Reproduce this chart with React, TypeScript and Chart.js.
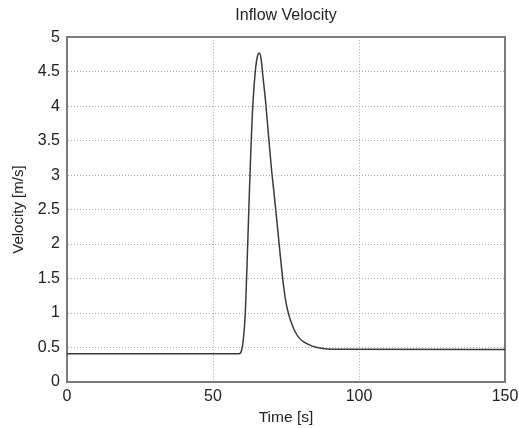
import React, { useEffect, useRef } from "react";
import { Chart, registerables } from "chart.js";

Chart.register(...registerables);

const chartTitle = "Inflow Velocity";
const xAxisTitle = "Time [s]";
const yAxisTitle = "Velocity [m/s]";

const timeSeconds = [
  0, 59.0, 59.8, 60.4, 61.0, 61.5, 62.0, 62.5, 63.0, 63.5, 64.0, 64.6, 65.2,
  65.9, 66.5, 67.0, 68.0, 69.0, 70.0, 71.0, 72.0, 73.0, 74.0, 75.0, 76.0,
  77.0, 78.0, 79.5, 81.5, 84.0, 87.0, 91.0, 150,
];
const velocity = [
  0.41, 0.41, 0.46, 0.62, 0.95, 1.5, 2.15, 2.8, 3.4, 3.9, 4.25, 4.55, 4.72,
  4.77, 4.68, 4.47, 4.07, 3.58, 3.1, 2.7, 2.28, 1.85, 1.45, 1.15, 0.97,
  0.84, 0.74, 0.64, 0.57, 0.52, 0.49, 0.475, 0.47,
];

const xMin = 0;
const xMax = 150;
const xStep = 50;
const yMin = 0;
const yMax = 5;
const yStep = 0.5;

export default function App() {
  const canvasRef = useRef<HTMLCanvasElement | null>(null);

  useEffect(() => {
    if (!canvasRef.current) return;
    const points = timeSeconds.map((t, i) => ({ x: t, y: velocity[i] }));
    const font = "'Liberation Sans', Arial, Helvetica, sans-serif";
    const textColor = "#222";
    const borderColor = "#7a7a7a";
    const gridColor = "#a8a8a8";

    const chart = new Chart(canvasRef.current, {
      type: "line",
      data: {
        datasets: [
          {
            data: points,
            borderColor: "#3a3a3a",
            borderWidth: 1.5,
            pointRadius: 0,
            cubicInterpolationMode: "monotone",
            fill: false,
          },
        ],
      },
      options: {
        animation: false,
        responsive: true,
        maintainAspectRatio: false,
        layout: { padding: { left: 0, right: 14, top: 0, bottom: 0 } },
        plugins: {
          legend: { display: false },
          tooltip: { enabled: false },
          title: {
            display: true,
            text: chartTitle,
            fullSize: false,
            color: textColor,
            font: { family: font, size: 16, weight: "normal" },
            padding: { top: 6, bottom: 12 },
          },
        },
        scales: {
          x: {
            type: "linear",
            position: "bottom",
            min: xMin,
            max: xMax,
            afterFit: (s: any) => {
              s.height = 46;
              s.paddingLeft = 0;
              s.paddingRight = 0;
            },
            ticks: {
              stepSize: xStep,
              color: textColor,
              padding: 5,
              font: { family: font, size: 16 },
              maxRotation: 0,
              callback: (v: any) => String(v),
            },
            grid: {
              color: gridColor,
              drawTicks: false,
              lineWidth: 1,
            },
            border: { display: true, color: borderColor, width: 2, dash: [1, 2] },
            title: {
              display: true,
              text: xAxisTitle,
              color: textColor,
              font: { family: font, size: 15.5 },
              padding: { top: 0, bottom: 1 },
            },
          },
          y: {
            type: "linear",
            position: "left",
            min: yMin,
            max: yMax,
            afterFit: (s: any) => {
              s.width = 67;
              s.paddingTop = 0;
              s.paddingBottom = 0;
            },
            ticks: {
              stepSize: yStep,
              color: textColor,
              padding: 7,
              font: { family: font, size: 16 },
              callback: (v: any) => String(v),
            },
            grid: {
              color: gridColor,
              drawTicks: false,
              lineWidth: 1,
            },
            border: { display: true, color: borderColor, width: 2, dash: [1, 2] },
            title: {
              display: true,
              text: yAxisTitle,
              color: textColor,
              font: { family: font, size: 15 },
              padding: { top: 10, bottom: 0 },
            },
          },
          x2: {
            type: "linear",
            position: "top",
            min: xMin,
            max: xMax,
            afterFit: (s: any) => {
              s.height = 0;
            },
            ticks: { display: false },
            grid: { display: false },
            border: { display: true, color: borderColor, width: 2 },
          },
          y2: {
            type: "linear",
            position: "right",
            min: yMin,
            max: yMax,
            afterFit: (s: any) => {
              s.width = 0;
            },
            ticks: { display: false },
            grid: { display: false },
            border: { display: true, color: borderColor, width: 2 },
          },
        },
      },
    });
    return () => chart.destroy();
  }, []);

  return (
    <div
      style={{
        position: "fixed",
        left: 0,
        top: 0,
        width: 519,
        height: 428,
        background: "#fff",
      }}
    >
      <canvas ref={canvasRef} />
    </div>
  );
}
